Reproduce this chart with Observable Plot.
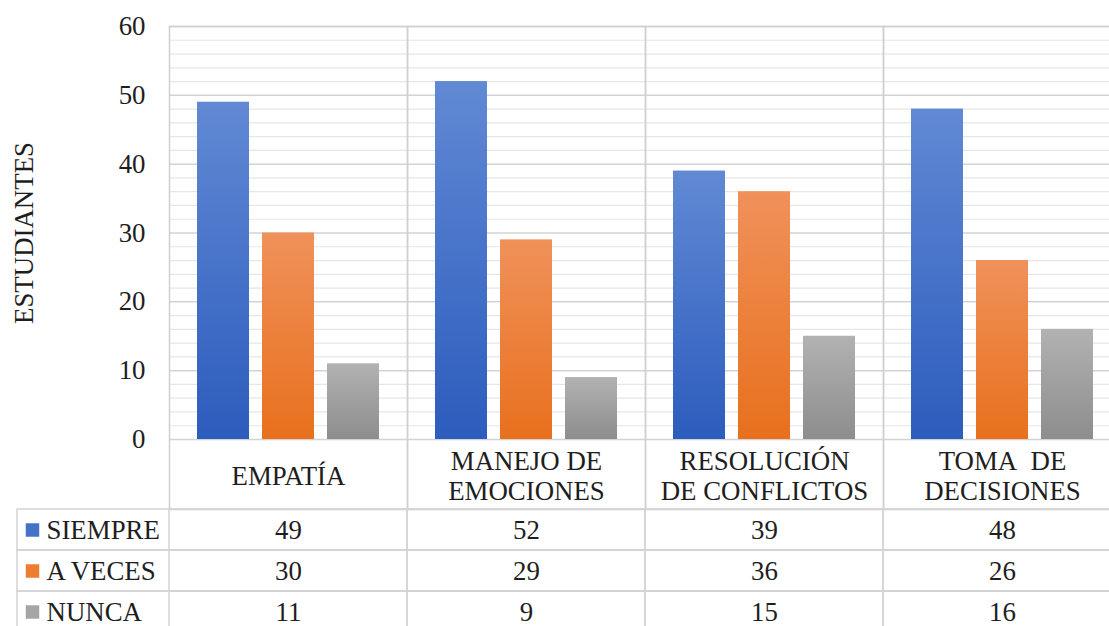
<!DOCTYPE html>
<html>
<head>
<meta charset="utf-8">
<script src="https://cdn.jsdelivr.net/npm/d3@7"></script>
<script src="https://cdn.jsdelivr.net/npm/@observablehq/plot@0.6"></script>
<style>
  html, body { margin: 0; padding: 0; background: white; }
  #wrap { width: 1109px; height: 626px; overflow: hidden; position: relative; }
  #wrap svg { display: block; max-width: none !important; height: auto; }
</style>
</head>
<body>
<div id="wrap"></div>
<script>
const categories = ["EMPATÍA", "MANEJO DE EMOCIONES", "RESOLUCIÓN DE CONFLICTOS", "TOMA DE DECISIONES"];
const categoryLabels = ["EMPATÍA", "MANEJO DE\nEMOCIONES", "RESOLUCIÓN\nDE CONFLICTOS", "TOMA\u00a0 DE\nDECISIONES"];
const series = ["SIEMPRE", "A VECES", "NUNCA"];
const siempre = [49, 52, 39, 48];
const aVeces = [30, 29, 36, 26];
const nunca = [11, 9, 15, 16];
const yTicks = [0, 10, 20, 30, 40, 50, 60];
const yMinorTicks = [2, 4, 6, 8, 12, 14, 16, 18, 22, 24, 26, 28, 32, 34, 36, 38, 42, 44, 46, 48, 52, 54, 56, 58];
const yLabel = "ESTUDIANTES";
const seriesColors = ["#4472c4", "#ed7d31", "#a5a5a5"];
const gradientStops = [["#6189d4", "#2c5cbd"], ["#f0915a", "#e8701d"], ["#b2b2b2", "#8d8d8d"]];

// pick an installed serif font (Times-like) by measuring text
const ctx = document.createElement("canvas").getContext("2d");
function w(font) { ctx.font = font; return ctx.measureText("ESTUDIANTES mwil 0123").width; }
function available(name) {
  return ["monospace", "sans-serif"].some(fb => Math.abs(w(`25px "${name}", ${fb}`) - w(`25px ${fb}`)) > 0.5);
}
const candidates = ["Liberation Serif", "Tinos", "Times New Roman", "Nimbus Roman", "FreeSerif", "Noto Serif", "DejaVu Serif"];
const fontName = candidates.find(available);
const fontFamily = fontName ? `"${fontName}", serif` : "serif";
// scale so that text width matches Times metrics (ESTUDIANTES ≈ 182px at 25px)
ctx.font = `25px ${fontFamily}`;
const measured = ctx.measureText(yLabel).width;
const fs = Math.max(18, Math.min(27, 25 * 182 / measured));

const css = document.createElement("style");
css.textContent = `#wrap svg, #wrap svg text { font-family: ${fontFamily} !important; }`;
document.head.appendChild(css);

const seriesValues = [siempre, aVeces, nunca];
const data = categories.flatMap((c, i) => series.map((s, k) => ({category: c, series: s, value: seriesValues[k][i]})));

const style = {
  fontFamily,
  fontSize: `${fs}px`,
  color: "#1e1e1e",
  background: "white",
  overflow: "visible",
  maxWidth: "none"
};

const chart = Plot.plot({
  width: 1122,
  height: 509,
  marginTop: 26,
  marginBottom: 70,
  marginLeft: 167,
  marginRight: 0,
  style,
  fx: {domain: categories, padding: 0, axis: null},
  x: {domain: series, paddingInner: 0.197, paddingOuter: 0.407, axis: null},
  y: {domain: [0, 60], ticks: yTicks, tickSize: 0, tickPadding: 24, label: null},
  marks: [
    Plot.ruleY(yMinorTicks, {stroke: "#e6e6e6", strokeWidth: 1.2}),
    Plot.ruleY(yTicks, {stroke: "#d3d3d3", strokeWidth: 1.5}),
    Plot.frame({stroke: "#d0d0d0", strokeWidth: 1.5, insetBottom: -70}),
    ...series.map((s, k) => Plot.barY(data.filter(d => d.series === s), {
      fx: "category", x: "series", y: "value", fill: `url(#barGrad${k})`
    })),
    Plot.text(categories, {
      fx: d => d, text: (d, i) => categoryLabels[i], frameAnchor: "bottom",
      dy: 36, lineAnchor: "middle", lineHeight: 1.12, fontSize: fs, fill: "#1e1e1e"
    }),
    Plot.text([yLabel], {
      fx: () => categories[0], text: d => d, frameAnchor: "left", textAnchor: "middle",
      lineAnchor: "middle", dx: -145, rotate: -90, fontSize: fs, fill: "#1e1e1e"
    })
  ]
});

d3.select(chart).insert("defs", ":first-child").html(
  gradientStops.map((g, k) =>
    `<linearGradient id="barGrad${k}" x1="0" y1="0" x2="0" y2="1">
       <stop offset="0%" stop-color="${g[0]}"/>
       <stop offset="100%" stop-color="${g[1]}"/>
     </linearGradient>`).join("")
);

const table = Plot.plot({
  width: 1122,
  height: 123,
  marginTop: 0,
  marginBottom: 0,
  marginLeft: 167,
  marginRight: 0,
  style,
  x: {domain: categories, padding: 0, axis: null},
  y: {domain: series, padding: 0, axis: null},
  color: {domain: series, range: seriesColors},
  marks: [
    Plot.cell(series, {y: d => d, fill: "none", stroke: "#d4d4d4", strokeWidth: 1.5, insetLeft: -150}),
    Plot.cell(data, {x: "category", y: "series", fill: "none", stroke: "#d4d4d4", strokeWidth: 1.5}),
    Plot.text(data, {x: "category", y: "series", text: "value", fontSize: fs, fill: "#1e1e1e"}),
    Plot.dot(series, {y: d => d, frameAnchor: "left", dx: -135, symbol: "square", r: 7.6, fill: d => d}),
    Plot.text(series, {y: d => d, text: d => d, frameAnchor: "left", dx: -121, textAnchor: "start", fontSize: fs, fill: "#1e1e1e"})
  ]
});

const wrap = document.getElementById("wrap");
wrap.appendChild(chart);
wrap.appendChild(table);
</script>
</body>
</html>
